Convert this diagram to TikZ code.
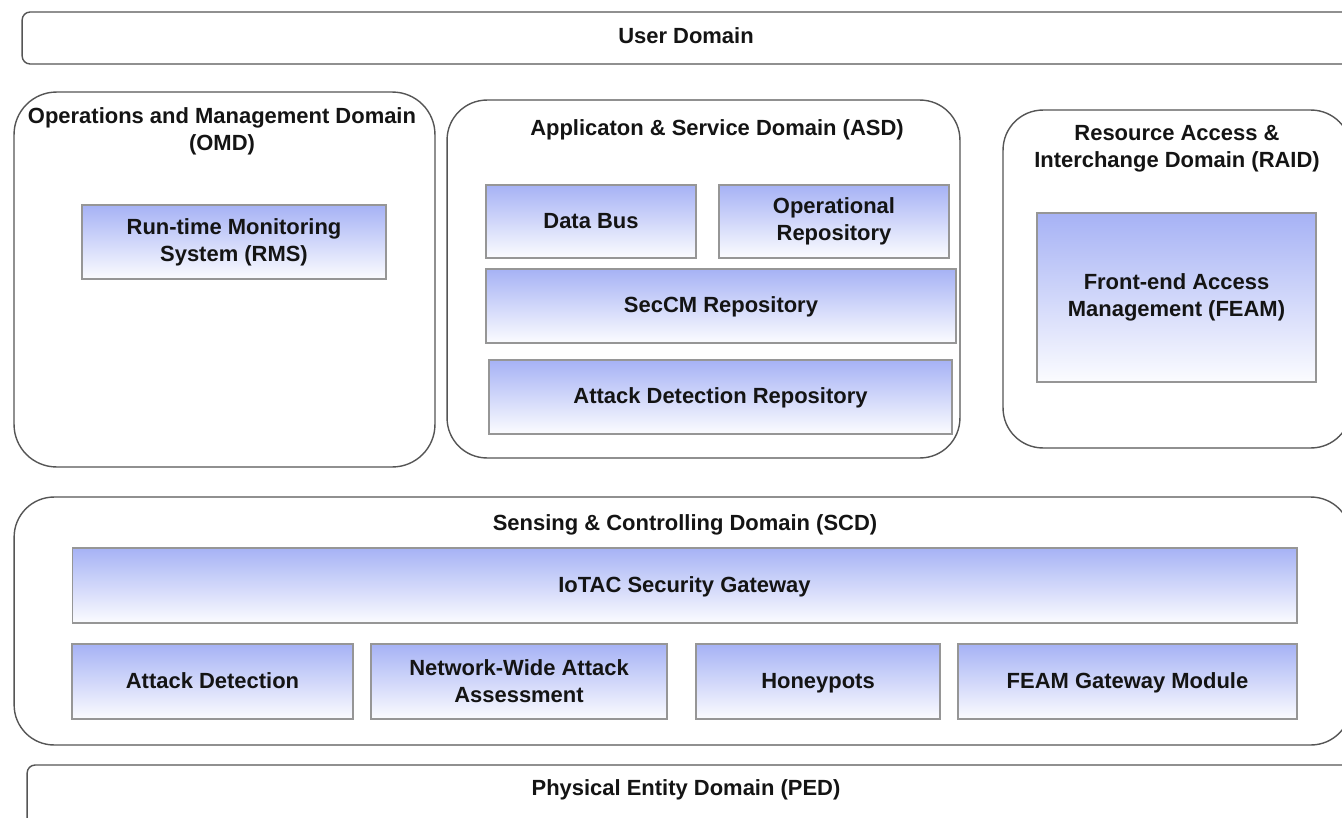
\documentclass[tikz,border=0pt]{standalone}
\usepackage{fontspec}
\setmainfont{Liberation Sans}
\usepackage{tikz}

\definecolor{boxtop}{RGB}{166,178,245}
\definecolor{boxline}{RGB}{150,150,150}
\definecolor{domline}{RGB}{85,85,85}
\definecolor{txt}{RGB}{20,20,20}

\tikzset{
    dombox/.style={draw=domline, line width=0.8pt, rounded corners=0.85cm, inner sep=0pt},
    bandbox/.style={draw=domline, line width=0.8pt, rounded corners=0.16cm, inner sep=0pt},
    comp/.style={draw=boxline, line width=0.7pt, top color=boxtop, bottom color=white!96!boxtop,
        inner sep=0pt, align=center, text=txt, font=\bfseries\fontsize{12.5}{15.3}\selectfont},
    oneline/.style={text height=0.74em, text depth=0pt},
    domtitle/.style={inner sep=0pt, align=center, text=txt, font=\bfseries\fontsize{12.5}{15.3}\selectfont}
}

\begin{document}
\begin{tikzpicture}[x=0.02cm, y=-0.02cm]
    \useasboundingbox (0,0) rectangle (1342,818);
    \clip (0,0) rectangle (1342,818);

    % Outer bands
    \node[bandbox, minimum width=26.56cm, minimum height=1.04cm] (user) at (686,38) {};
    \node[domtitle] (usertitle) at (686,36) {User Domain};
    \node[bandbox, minimum width=26.48cm, minimum height=1.9cm] (ped) at (689,812.5) {};
    \node[domtitle] (pedtitle) at (686,790) {Physical Entity Domain (PED)};

    % Operations and management
    \node[dombox, minimum width=8.42cm, minimum height=7.5cm] (omd) at (224.5,279.5) {};
    \node[domtitle] (omdtitle) at (222,131.5) {Operations and Management Domain\\(OMD)};
    \node[comp, minimum width=6.08cm, minimum height=1.48cm] (rms) at (234,242) {Run-time Monitoring\\System (RMS)};

    % Application and service
    \node[dombox, rounded corners=0.8cm, minimum width=10.26cm, minimum height=7.16cm] (asd) at (703.5,279) {};
    \node[domtitle] (asdtitle) at (717,130) {Applicaton \& Service Domain (ASD)};
    \node[comp, oneline, minimum width=4.2cm, minimum height=1.46cm] (databus) at (591,221.5) {Data Bus};
    \node[comp, minimum width=4.6cm, minimum height=1.46cm] (oprepo) at (834,221.5) {Operational\\Repository};
    \node[comp, oneline, minimum width=9.4cm, minimum height=1.48cm] (seccm) at (721,306) {SecCM Repository};
    \node[comp, oneline, minimum width=9.26cm, minimum height=1.48cm] (adrepo) at (720.5,397) {Attack Detection Repository};

    % Resource access
    \node[dombox, rounded corners=0.8cm, minimum width=6.96cm, minimum height=6.76cm] (raid) at (1177,279) {};
    \node[domtitle] (raidtitle) at (1177,149) {Resource Access \&\\Interchange Domain (RAID)};
    \node[comp, minimum width=5.58cm, minimum height=3.38cm] (feam) at (1176.5,297.5) {Front-end Access\\Management (FEAM)};

    % Sensing and controlling
    \node[dombox, rounded corners=0.8cm, minimum width=26.74cm, minimum height=4.96cm] (scd) at (682.5,621) {};
    \node[domtitle] (scdtitle) at (685,525) {Sensing \& Controlling Domain (SCD)};
    \node[comp, oneline, minimum width=24.5cm, minimum height=1.5cm] (gateway) at (684.5,585.5) {IoTAC Security Gateway};
    \node[comp, oneline, minimum width=5.62cm, minimum height=1.5cm] (attackdet) at (212.5,681.5) {Attack Detection};
    \node[comp, minimum width=5.92cm, minimum height=1.5cm] (nwaa) at (519,681.5) {Network-Wide Attack\\Assessment};
    \node[comp, oneline, minimum width=4.88cm, minimum height=1.5cm] (honey) at (818,681.5) {Honeypots};
    \node[comp, oneline, minimum width=6.78cm, minimum height=1.5cm] (feamgw) at (1127.5,681.5) {FEAM Gateway Module};

\end{tikzpicture}
\end{document}
